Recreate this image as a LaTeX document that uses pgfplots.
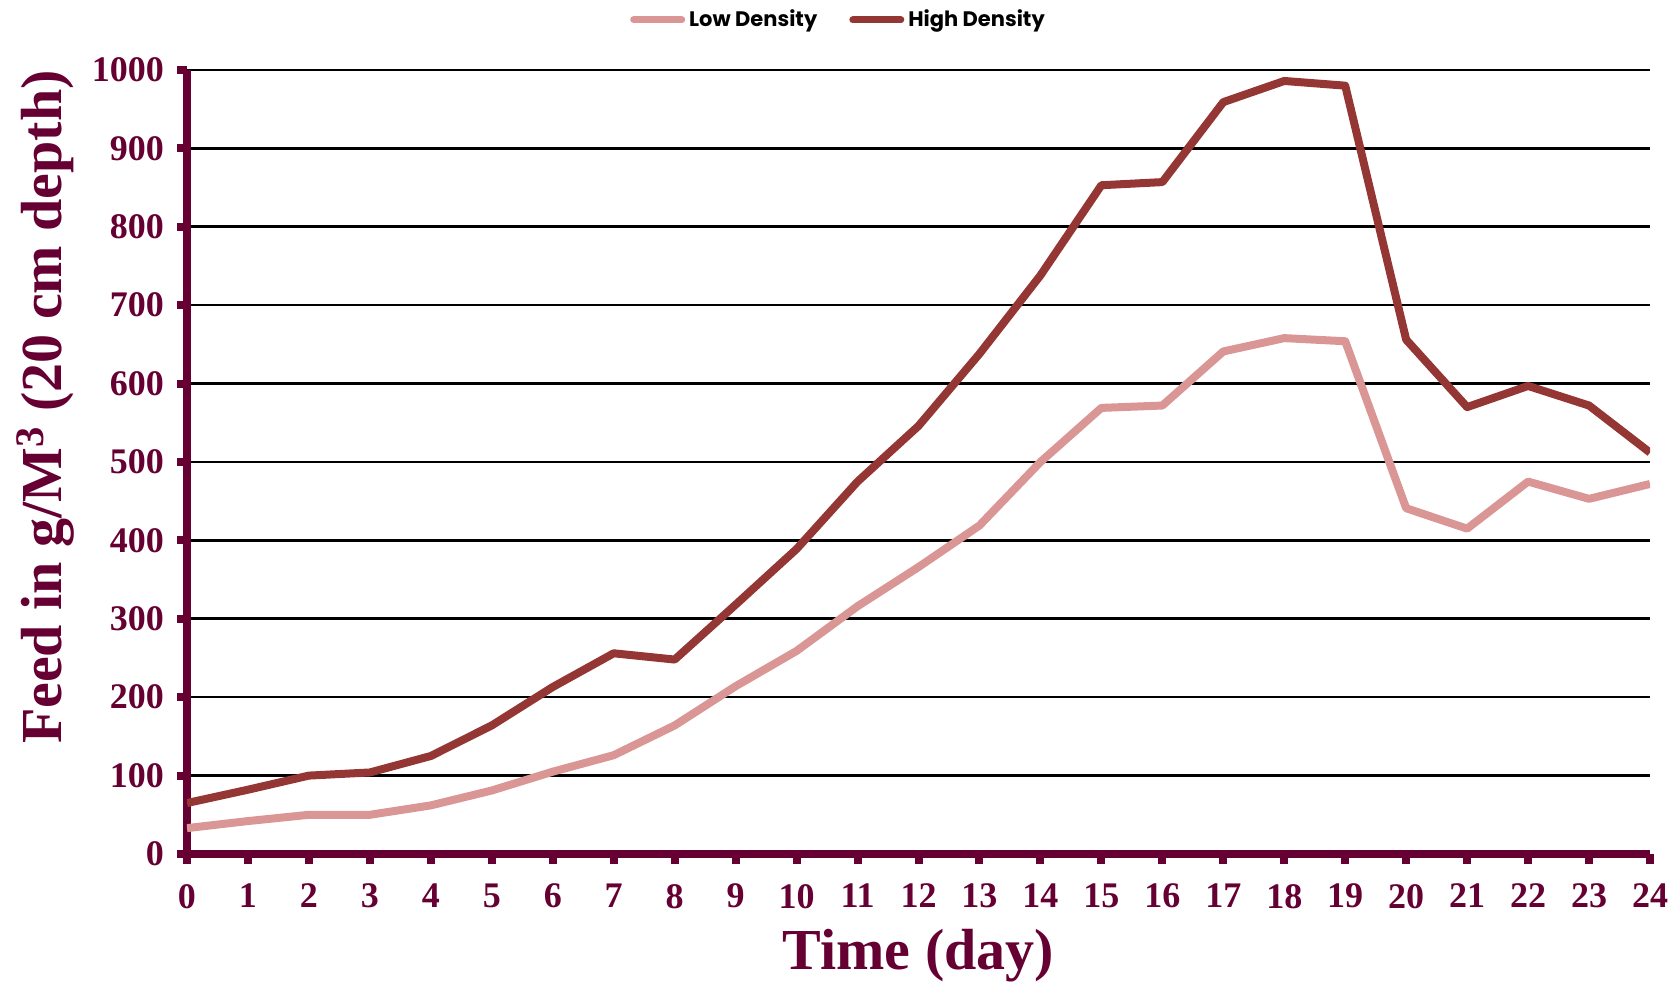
\documentclass[border=0pt]{standalone}
\usepackage{pgfplots}
\pgfplotsset{compat=1.18}
\usepackage{fontspec}
\setmainfont{Liberation Serif}
\newfontfamily\legendfont{Poppins}
\definecolor{maroon}{HTML}{660033}
\definecolor{lowc}{HTML}{D99694}
\definecolor{highc}{HTML}{943634}
\begin{document}
\begin{tikzpicture}
\begin{axis}[
  at={(0,0)}, anchor=south west,
  scale only axis, width=731.5pt, height=392pt,
  xmin=0, xmax=24, ymin=0, ymax=1000,
  xtick={0,...,24}, ytick={0,100,...,1000},
  axis x line*=bottom, axis y line*=left,
  axis line style={maroon, line width=4pt},
  ymajorgrids, grid style={black, line width=1.3pt},
  tick align=outside, major tick length=5pt,
  tick style={maroon, line width=4pt},
  /pgf/number format/assume math mode=true,
  /pgf/number format/set thousands separator={},
  ticklabel style={font=\bfseries\fontsize{18}{18}\selectfont, text=maroon},
  xticklabel style={yshift=-6.5pt},
  yticklabel style={xshift=-3pt},
  xlabel={Time (day)},
  ylabel={Feed in g/M\textsuperscript{3} (20 cm depth)},
  xlabel style={at={(axis description cs:0.5,0)}, anchor=center, yshift=-51pt,
    font=\bfseries\fontsize{29}{30}\selectfont, text=maroon},
  ylabel style={at={(axis description cs:-0.097,0.57)}, anchor=center,
    font=\bfseries\fontsize{29}{30}\selectfont, text=maroon},
  legend style={at={(axis description cs:0.446,1)}, anchor=center, yshift=25pt,
    draw=none, fill=none, legend columns=2,
    font=\legendfont\bfseries\fontsize{10.5}{12}\selectfont,
    /tikz/every even column/.append style={column sep=14pt}},
  legend image code/.code={\draw[#1, line width=3.5pt, line cap=round] (0pt,0pt) -- (24pt,0pt);},
]
% low stocking density
\addplot[lowc, line width=4pt, line join=round] coordinates {
  (0,33) (1,42) (2,50) (3,50) (4,62) (5,81) (6,105) (7,126) (8,164)
  (9,214) (10,259) (11,316) (12,366) (13,419) (14,500) (15,569) (16,572)
  (17,641) (18,658) (19,654) (20,441) (21,415) (22,475) (23,453) (24,472)};
\addlegendentry{Low Density}
% high stocking density
\addplot[highc, line width=4pt, line join=round] coordinates {
  (0,65) (1,82) (2,100) (3,104) (4,125) (5,164) (6,213) (7,256) (8,248)
  (9,318) (10,389) (11,475) (12,546) (13,638) (14,738) (15,853) (16,857)
  (17,959) (18,986) (19,980) (20,656) (21,570) (22,597) (23,572) (24,512)};
\addlegendentry{High Density}
\end{axis}
\pgfresetboundingbox
\path (-93.5pt,-67.5pt) rectangle (746pt,427pt);
\end{tikzpicture}
\end{document}
